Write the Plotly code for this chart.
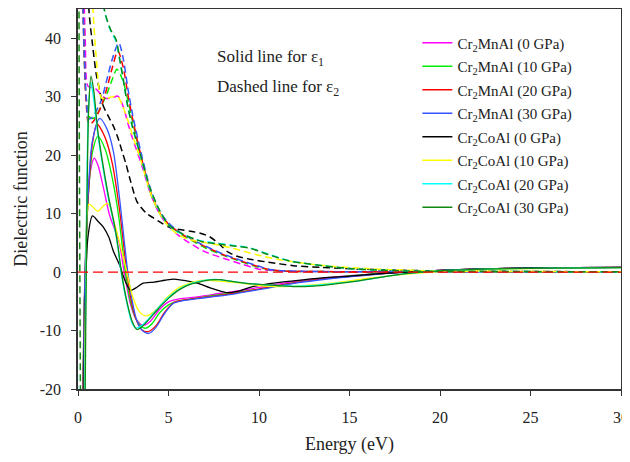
import plotly.graph_objects as go

# ---------------- data ----------------
names = ["Cr<sub>2</sub>MnAl (0 GPa)", "Cr<sub>2</sub>MnAl (10 GPa)", "Cr<sub>2</sub>MnAl (20 GPa)",
         "Cr<sub>2</sub>MnAl (30 GPa)", "Cr<sub>2</sub>CoAl (0 GPa)", "Cr<sub>2</sub>CoAl (10 GPa)",
         "Cr<sub>2</sub>CoAl (20 GPa)", "Cr<sub>2</sub>CoAl (30 GPa)"]
colors = ["#FF00FF", "#00EE00", "#FF0000", "#3355FF", "#000000", "#FFFF00", "#00FFFF", "#118811"]

# epsilon_1 (solid)
e1_mn0_x = [0.2, 0.35, 0.5, 0.7, 0.9, 1.1, 1.4, 1.73, 2.0, 2.28, 2.55, 2.9, 3.2, 3.6, 4.0, 4.5, 5.0, 5.6, 6.5, 7.5, 8.5, 10, 12, 14, 16, 18, 20, 22, 25, 30]
e1_mn0_y = [-40, -5, 10, 17.5, 19.5, 18.3, 14.5, 9.9, 7.5, 5.0, 0, -5.5, -8, -9.1, -8.4, -6.4, -5.1, -4.6, -4.3, -3.8, -3.4, -2.6, -1.6, -0.9, -0.4, 0.0, 0.3, 0.5, 0.7, 0.8]

e1_mn10_x = [0.2, 0.35, 0.55, 0.8, 1.1, 1.5, 1.9, 2.25, 2.62, 2.9, 3.2, 3.5, 3.75, 4.1, 4.5, 5.0, 5.6, 6.5, 7.5, 8.5, 10, 12, 14, 16, 18, 20, 22, 25, 30]
e1_mn10_y = [-40, -5, 12, 20.5, 23.2, 21, 16, 9.5, 0, -5, -8, -9.3, -9.6, -8.8, -7, -5.6, -4.9, -4.5, -4, -3.6, -2.9, -1.8, -1.0, -0.4, 0, 0.3, 0.5, 0.7, 0.8]

e1_mn20_x = [0.2, 0.35, 0.55, 0.8, 1.05, 1.5, 1.9, 2.3, 2.7, 2.95, 3.2, 3.5, 3.85, 4.3, 4.8, 5.3, 5.8, 6.5, 7.5, 8.5, 10, 12, 14, 16, 18, 20, 22, 25, 30]
e1_mn20_y = [-40, -6, 12, 22, 25.3, 23, 18.5, 10.5, 0, -5, -8, -9.8, -10.2, -9.2, -6.8, -5.2, -4.8, -4.5, -4.1, -3.7, -2.9, -1.8, -1.0, -0.5, 0, 0.3, 0.5, 0.7, 0.8]

e1_mn30_x = [0.2, 0.35, 0.55, 0.8, 1.2, 1.6, 1.95, 2.3, 2.75, 3.0, 3.25, 3.55, 3.9, 4.3, 4.8, 5.3, 5.8, 6.5, 7.5, 8.5, 10, 12, 14, 16, 18, 20, 22, 25, 30]
e1_mn30_y = [-40, -6, 13, 22.5, 26.3, 24.5, 20.7, 12.5, 0, -5, -8.3, -10, -10.5, -9.5, -7, -5.3, -4.9, -4.6, -4.2, -3.8, -3, -1.9, -1.1, -0.5, 0, 0.3, 0.5, 0.7, 0.8]

e1_co0_x = [0.25, 0.4, 0.55, 0.8, 1.1, 1.4, 1.7, 1.95, 2.3, 2.6, 2.9, 3.2, 3.6, 4.2, 4.8, 5.3, 6.0, 6.6, 7.3, 8.2, 8.8, 9.5, 10.5, 11.9, 13.5, 15, 17, 20, 22, 25, 30]
e1_co0_y = [-40, -5, 6, 9.6, 8.7, 7.7, 6.0, 3.6, 1.2, -1.5, -3.1, -2.7, -1.9, -1.7, -1.4, -1.2, -1.5, -1.9, -2.7, -3.5, -3.3, -2.6, -2.0, -1.5, -1.0, -0.7, -0.2, 0.3, 0.5, 0.7, 0.8]

e1_co10_x = [0.3, 0.42, 0.6, 0.8, 1.1, 1.4, 1.65, 2.0, 2.3, 2.7, 3.0, 3.4, 3.8, 4.3, 4.9, 5.5, 6.0, 6.5, 7.1, 8, 9, 10, 11, 12, 14, 16, 18, 20, 22, 25, 30]
e1_co10_y = [-40, -5, 11.6, 11.2, 10.4, 11.3, 11.8, 8.5, 5.0, 0, -4, -6.8, -7.5, -6.5, -4.4, -2.8, -2.1, -1.6, -1.4, -1.6, -1.9, -2.3, -2.5, -2.4, -1.9, -1.1, -0.4, 0.1, 0.4, 0.6, 0.75]

e1_co20_x = [0.32, 0.45, 0.57, 0.7, 0.85, 1.1, 1.4, 1.7, 2.0, 2.2, 2.38, 2.7, 3.0, 3.2, 3.5, 3.9, 4.4, 5.0, 5.6, 6.2, 6.7, 7.3, 7.8, 8.5, 9.2, 10, 11, 12, 13, 14, 15.5, 16.5, 18, 20, 22, 25, 30]
e1_co20_y = [-40, 5, 27, 32.5, 30, 23.5, 17.5, 12.3, 8, 4.3, 0, -5.3, -8.8, -9.6, -9.2, -8, -6.2, -4.3, -2.9, -2.0, -1.6, -1.3, -1.3, -1.6, -1.9, -2.1, -2.3, -2.4, -2.3, -2.0, -1.5, -1.0, -0.3, 0.2, 0.45, 0.65, 0.75]

e1_co30_x = [0.34, 0.47, 0.59, 0.72, 0.87, 1.1, 1.4, 1.7, 2.0, 2.2, 2.4, 2.7, 3.0, 3.25, 3.55, 3.95, 4.4, 5.0, 5.6, 6.2, 6.7, 7.3, 7.8, 8.5, 9.2, 10, 11, 12, 13, 14, 15.5, 16.5, 18, 20, 22, 25, 30]
e1_co30_y = [-40, 5, 28, 33.5, 31, 24, 18, 12.7, 8.3, 4.6, 0, -5, -8.5, -9.8, -9.3, -8, -6.4, -4.5, -3.0, -2.1, -1.7, -1.35, -1.3, -1.6, -1.9, -2.1, -2.3, -2.5, -2.4, -2.1, -1.5, -1.0, -0.3, 0.2, 0.45, 0.65, 0.75]

# epsilon_2 (dashed)
e2_mn0_x = [0.05, 0.25, 0.4, 0.55, 0.8, 1.0, 1.3, 1.55, 1.9, 2.2, 2.5, 2.75, 3.0, 3.5, 4.0, 4.5, 5.0, 5.5, 6.0, 7.0, 8.2, 9.0, 10.0, 11, 13, 15, 20, 25, 30]
e2_mn0_y = [100, 60, 40, 31.8, 31.5, 31.3, 30.3, 29.7, 29.8, 30.1, 28.3, 25.5, 23, 18.5, 13.5, 10.0, 7.9, 6.4, 5.3, 3.5, 2.2, 1.4, 0.5, 0.2, 0.1, 0.05, 0.05, 0.05, 0.05]

e2_mn10_x = [0.05, 0.2, 0.32, 0.45, 0.65, 0.85, 1.05, 1.3, 1.6, 1.9, 2.15, 2.45, 2.75, 3.0, 3.5, 4.0, 4.5, 5.0, 5.5, 6.0, 7.0, 8.0, 9.0, 10.0, 10.6, 11.5, 13, 15, 20, 25, 30]
e2_mn10_y = [100, 60, 40, 30, 26.5, 26.3, 27, 28.5, 30.5, 33, 34.7, 33, 29.5, 26, 19.3, 13.6, 10.1, 8.1, 6.9, 5.9, 4.2, 2.9, 1.8, 0.8, 0.35, 0.15, 0.1, 0.05, 0.05, 0.05, 0.05]

e2_mn20_x = [0.05, 0.2, 0.32, 0.45, 0.6, 0.8, 1.0, 1.3, 1.6, 1.9, 2.2, 2.5, 2.75, 3.0, 3.5, 4.0, 4.5, 5.0, 5.5, 6.0, 7.0, 8.0, 9.0, 10.0, 10.6, 11.5, 13, 15, 20, 25, 30]
e2_mn20_y = [100, 60, 40, 29, 25.3, 25.6, 26.5, 28.5, 31.5, 35, 37.8, 35, 30.5, 26.5, 19.6, 13.8, 10.2, 8.2, 7.0, 6.0, 4.4, 3.0, 1.9, 0.9, 0.4, 0.15, 0.1, 0.05, 0.05, 0.05, 0.05]

e2_mn30_x = [0.05, 0.2, 0.3, 0.45, 0.6, 0.8, 1.0, 1.3, 1.6, 1.9, 2.25, 2.5, 2.75, 3.0, 3.5, 4.0, 4.5, 5.0, 5.5, 6.0, 7.0, 8.0, 9.0, 10.0, 10.6, 11.5, 13, 15, 20, 25, 30]
e2_mn30_y = [100, 60, 42, 30, 26.2, 26.5, 27.5, 29.5, 33, 36.5, 39.2, 36.5, 31.5, 27.2, 20.2, 14.3, 10.5, 8.4, 7.1, 6.1, 4.5, 3.1, 2.0, 1.0, 0.45, 0.2, 0.1, 0.05, 0.05, 0.05, 0.05]

e2_co0_x = [0.05, 0.4, 0.6, 0.8, 1.0, 1.2, 1.4, 1.7, 1.95, 2.2, 2.45, 2.65, 2.9, 3.25, 3.5, 3.8, 4.15, 4.6, 5.1, 5.6, 6.2, 6.8, 7.3, 7.8, 8.3, 8.8, 9.5, 10.5, 11.9, 13.5, 15.6, 18, 20, 25, 30]
e2_co0_y = [100, 70, 45, 39, 34, 31, 28.4, 26.5, 25, 23, 20.5, 18.5, 15.6, 12.1, 11.0, 10.0, 9.3, 8.4, 7.6, 7.3, 7.0, 6.6, 6.0, 4.8, 3.4, 2.7, 2.2, 1.7, 1.1, 0.8, 0.5, 0.3, 0.2, 0.1, 0.05]

e2_co10_x = [0.05, 0.5, 0.83, 1.0, 1.3, 1.6, 1.9, 2.2, 2.45, 2.75, 3.0, 3.5, 4.0, 4.5, 5.0, 5.5, 6.0, 6.7, 7.5, 8.5, 9.1, 10.2, 11, 12, 13, 14, 16, 18, 20, 25, 30]
e2_co10_y = [100, 70, 45, 37, 29.8, 29.7, 30, 30, 28.5, 26, 23.5, 18.8, 13.6, 10.1, 7.8, 6.5, 5.7, 5.2, 4.8, 4.1, 3.6, 2.7, 2.2, 1.7, 1.3, 1.0, 0.6, 0.35, 0.2, 0.1, 0.05]

e2_co20_x = [0.0, 0.03, 1.0, 1.45, 1.8, 2.1, 2.3, 2.5, 2.75, 3.0, 3.5, 4.0, 4.5, 5.0, 5.5, 6.0, 6.5, 7.0, 7.8, 8.5, 9.5, 10.5, 11.7, 12.5, 13.5, 15, 16.5, 18, 20, 25, 30]
e2_co20_y = [-30, 100, 70, 45, 41.3, 39.5, 36.3, 32.8, 28.2, 24.8, 19.3, 14.0, 10.5, 8.0, 6.9, 6.2, 5.6, 5.2, 4.9, 4.6, 4.1, 3.1, 1.9, 1.5, 1.1, 0.6, 0.35, 0.2, 0.12, 0.08, 0.05]

e2_co30_x = [0.15, 0.22, 1.0, 1.45, 1.8, 2.1, 2.3, 2.5, 2.75, 3.0, 3.5, 4.0, 4.5, 5.0, 5.5, 6.0, 6.5, 7.0, 7.8, 8.5, 9.5, 10.5, 11.7, 12.5, 13.5, 15, 16.5, 18, 20, 25, 30]
e2_co30_y = [-30, 100, 70, 45, 41.5, 39.8, 36.5, 33, 28.4, 25, 19.5, 14.2, 10.6, 8.1, 7.0, 6.2, 5.6, 5.1, 4.8, 4.5, 4.1, 3.0, 1.9, 1.5, 1.1, 0.6, 0.35, 0.2, 0.12, 0.08, 0.05]

eps1_x = [e1_mn0_x, e1_mn10_x, e1_mn20_x, e1_mn30_x, e1_co0_x, e1_co10_x, e1_co20_x, e1_co30_x]
eps1_y = [e1_mn0_y, e1_mn10_y, e1_mn20_y, e1_mn30_y, e1_co0_y, e1_co10_y, e1_co20_y, e1_co30_y]
eps2_x = [e2_mn0_x, e2_mn10_x, e2_mn20_x, e2_mn30_x, e2_co0_x, e2_co10_x, e2_co20_x, e2_co30_x]
eps2_y = [e2_mn0_y, e2_mn10_y, e2_mn20_y, e2_mn30_y, e2_co0_y, e2_co10_y, e2_co20_y, e2_co30_y]

zero_x = [0, 30]
zero_y = [0, 0]

x_ticks = [0, 5, 10, 15, 20, 25, 30]
y_ticks = [-20, -10, 0, 10, 20, 30, 40]
y_ticktext = ["-20", "-10", "0", "10", "20", "30", "40"]

FONT = "Liberation Serif, Times New Roman, serif"

fig = go.Figure()
for i in range(8):
    fig.add_trace(go.Scatter(
        x=eps1_x[i], y=eps1_y[i], mode="lines", name=names[i],
        legendgroup=f"g{i}",
        line=dict(color=colors[i], width=1.3, shape="spline", smoothing=0.8),
    ))
    fig.add_trace(go.Scatter(
        x=eps2_x[i], y=eps2_y[i], mode="lines", name=names[i], showlegend=False,
        legendgroup=f"g{i}",
        line=dict(color=colors[i], width=1.5, dash="7px,4px", shape="spline", smoothing=0.8),
    ))

fig.add_trace(go.Scatter(x=zero_x, y=zero_y, mode="lines", showlegend=False,
                         line=dict(color="#FF0000", width=1.3, dash="10px,5px")))

# the page body adds an 8px offset, so the figure margins are shifted by 8px
fig.update_layout(
    width=630, height=462,
    margin=dict(l=70, r=17, t=1, b=81, autoexpand=False),
    paper_bgcolor="white", plot_bgcolor="white",
    font=dict(family=FONT, color="#222222", size=16),
    showlegend=True,
    legend=dict(x=0.625, y=0.954, xanchor="left", yanchor="top",
                font=dict(family=FONT, size=15, color="#222222"),
                bgcolor="rgba(0,0,0,0)", tracegroupgap=1),
    xaxis=dict(range=[0, 30], tickvals=x_ticks, ticks="outside", ticklen=5, tickwidth=1.3,
               tickcolor="#333333", showline=True, linecolor="#333333", linewidth=1.5,
               mirror=True, showgrid=False, zeroline=False, automargin=False,
               ticklabelstandoff=8,
               tickfont=dict(size=16, family=FONT),
               title=dict(text="Energy (eV)", font=dict(size=18, family=FONT), standoff=12)),
    yaxis=dict(range=[-20, 45], tickvals=y_ticks, ticktext=y_ticktext, ticks="outside", ticklen=5,
               tickwidth=1.3, tickcolor="#333333", showline=True, linecolor="#333333", linewidth=1.5,
               mirror=True, showgrid=False, zeroline=False, automargin=False,
               ticklabelstandoff=7,
               tickfont=dict(size=16, family=FONT),
               title=dict(text="Dielectric function", font=dict(size=18, family=FONT), standoff=7)),
    annotations=[
        dict(text="Solid line for ε<sub>1</sub>", xref="paper", yref="paper", x=0.252, y=0.871,
             xanchor="left", yanchor="middle", showarrow=False, font=dict(size=17, family=FONT)),
        dict(text="Dashed line for ε<sub>2</sub>", xref="paper", yref="paper", x=0.252, y=0.792,
             xanchor="left", yanchor="middle", showarrow=False, font=dict(size=17, family=FONT)),
    ],
)

fig.write_html("out.html")
